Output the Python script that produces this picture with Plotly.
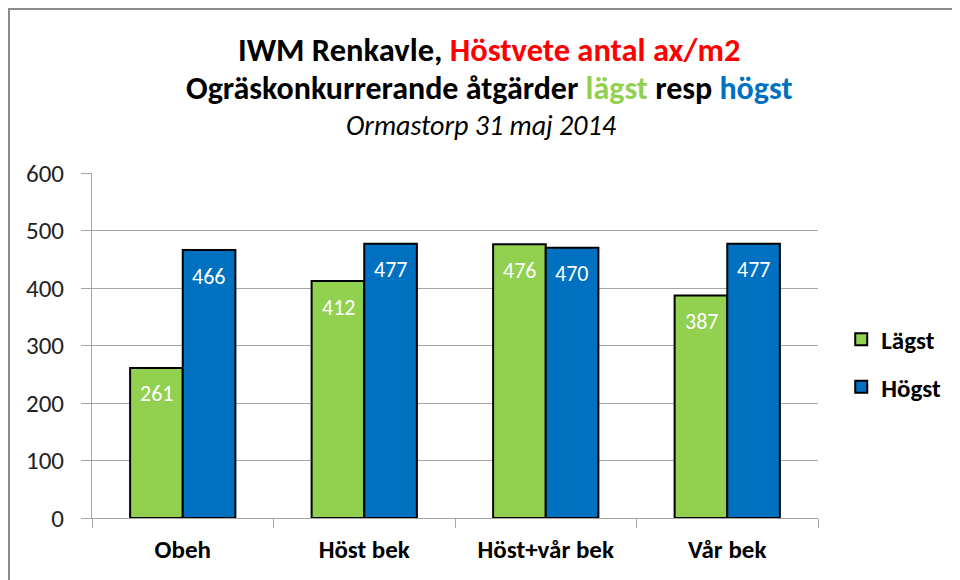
import plotly.graph_objects as go

categories = ["Obeh", "Höst bek", "Höst+vår bek", "Vår bek"]
lagst = [261, 412, 476, 387]
hogst = [466, 477, 470, 477]
y_ticks = [0, 100, 200, 300, 400, 500, 600]

FONT = "Carlito, Calibri, Lato, sans-serif"
GREEN = "#92D050"
BLUE = "#0070C0"
GRID = "#A6A6A6"

# figure is shown with the page's default 8px body margin
ML, MT, MR, MB = 84, 165, 150, 70
PW = 960 - ML - MR
PH = 580 - MT - MB

fig = go.Figure()
fig.add_trace(go.Bar(
    x=categories, y=lagst, name="Lägst", legendgroup="a",
    marker=dict(color=GREEN, line=dict(color="black", width=2)),
))
fig.add_trace(go.Bar(
    x=categories, y=hogst, name="Högst", legendgroup="b",
    marker=dict(color=BLUE, line=dict(color="black", width=2)),
))

fig.update_layout(
    width=960, height=580,
    paper_bgcolor="white", plot_bgcolor="white",
    margin=dict(l=ML, r=MR, t=MT, b=MB, autoexpand=False),
    barmode="group", bargap=0.42, bargroupgap=0,
    font=dict(family=FONT, color="black"),
    showlegend=True,
    legend=dict(x=1.032, y=0.449, xanchor="left", yanchor="middle",
                font=dict(size=25, family=FONT, color="black", weight="bold"),
                tracegroupgap=12, itemwidth=30),
    xaxis=dict(showline=True, linecolor=GRID, linewidth=1,
               ticks="outside", tickson="boundaries", ticklen=9, tickcolor=GRID,
               tickfont=dict(size=25, family=FONT, color="black", weight="bold"),
               ticklabelstandoff=9, showgrid=False),
    yaxis=dict(range=[0, 600], tickvals=y_ticks, showline=True, linecolor=GRID,
               linewidth=1, ticks="outside", ticklen=10, tickcolor=GRID,
               gridcolor=GRID, gridwidth=1, ticklabelstandoff=12,
               tickfont=dict(size=25, family=FONT, color="#222"), zeroline=False),
    shapes=[dict(type="rect", xref="paper", yref="paper",
                 x0=(1 - ML) / PW, x1=(1000 - ML) / PW,
                 y0=(PH - 620) / PH, y1=(PH + MT - 1) / PH,
                 line=dict(color="#8C8C8C", width=2), fillcolor="rgba(0,0,0,0)", layer="below")],
)

# data labels near the top inside each bar
for i, c in enumerate(categories):
    fig.add_annotation(x=c, y=lagst[i], xref="x", yref="y", text=str(lagst[i]), showarrow=False,
                       xshift=-26, yshift=-26, yanchor="middle",
                       font=dict(size=22, family=FONT, color="white"))
    fig.add_annotation(x=c, y=hogst[i], xref="x", yref="y", text=str(hogst[i]), showarrow=False,
                       xshift=26, yshift=-26, yanchor="middle",
                       font=dict(size=22, family=FONT, color="white"))

TX = 0.5 + 34 / PW
fig.add_annotation(xref="paper", yref="paper", x=TX, y=1.0, yshift=MT - 42, xanchor="center", yanchor="middle",
                   text="<b>IWM Renkavle, <span style='color:#FF0000'>Höstvete antal ax/m2</span></b>",
                   showarrow=False, font=dict(size=32.5, family=FONT, color="black"))
fig.add_annotation(xref="paper", yref="paper", x=TX, y=1.0, yshift=MT - 80, xanchor="center", yanchor="middle",
                   text="<b>Ogräskonkurrerande åtgärder <span style='color:#92D050'>lägst</span> resp <span style='color:#0070C0'>högst</span></b>",
                   showarrow=False, font=dict(size=32, family=FONT, color="black"))
fig.add_annotation(xref="paper", yref="paper", x=TX - 8 / PW, y=1.0, yshift=MT - 117, xanchor="center", yanchor="middle",
                   text="<i>Ormastorp 31 maj 2014</i>",
                   showarrow=False, font=dict(size=28, family=FONT, color="black"))

fig.write_html("out.html")
